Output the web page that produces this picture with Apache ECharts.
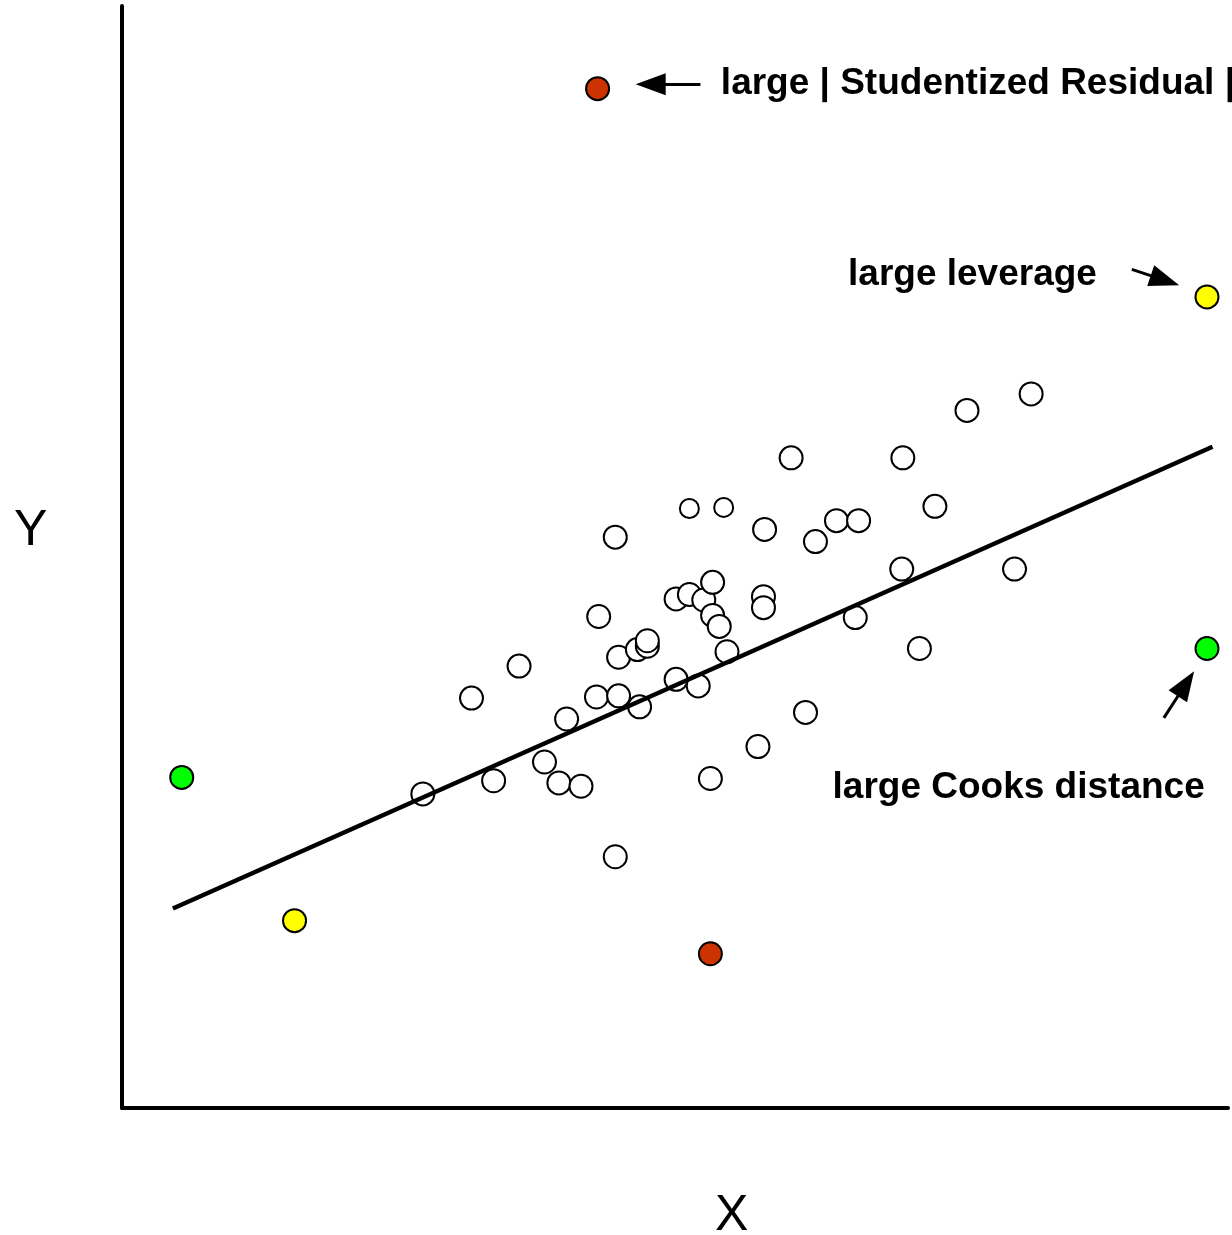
<!DOCTYPE html>
<html>
<head>
<meta charset="utf-8">
<title>Outliers, leverage and influence</title>
<script src="https://cdn.jsdelivr.net/npm/echarts@6/dist/echarts.min.js"></script>
<style>
  html, body { margin: 0; padding: 0; background: #fff; }
  #chart { width: 1232px; height: 1235px; }
</style>
</head>
<body>
<div id="chart"></div>
<script>
// values, axes run 0..100 on both sides
const typicalPts = [
  [27.2, 28.5], [33.6, 29.7], [38.2, 31.4], [39.5, 29.5], [41.5, 29.2],
  [31.6, 37.2], [35.9, 40.1], [40.2, 35.3], [42.9, 37.3], [44.9, 37.4],
  [46.8, 36.4], [43.1, 44.6], [44.9, 40.9], [46.6, 41.6], [47.5, 41.9],
  [47.5, 42.4], [50.1, 46.2], [51.3, 46.6], [52.6, 46.1], [53.4, 47.7],
  [53.4, 44.7], [54.0, 43.7], [54.7, 41.4], [50.1, 38.9], [52.1, 38.3],
  [58.0, 46.4], [58.0, 45.4], [57.5, 32.8], [53.2, 29.9], [44.6, 22.8],
  [61.8, 35.9], [44.6, 51.8], [58.1, 52.5], [62.7, 51.4], [64.6, 53.3],
  [66.6, 53.3], [66.3, 44.5], [70.5, 48.9], [60.5, 59.0], [70.6, 59.0],
  [76.4, 63.3], [82.2, 64.8], [73.5, 54.6], [80.7, 48.9], [72.1, 41.7]
];
const smallPts = [[51.3, 54.4], [54.4, 54.5]];
const residualPts = [[43.0, 92.5], [53.2, 14.0]];
const leveragePts = [[98.1, 73.6], [15.6, 17.0]];
const cooksPts = [[98.1, 41.7], [5.4, 30.0]];
const fitLine = [[4.6, 18.1], [98.6, 60.0]];

const noteLabels = [
  [54.1, 92.9, 'large | Studentized Residual |'],
  [65.6, 75.6, 'large leverage'],
  [64.2, 29.1, 'large Cooks distance']
];
const noteArrows = [
  [[52.3, 92.9], [47.8, 92.9]],
  [[91.3, 76.1], [94.3, 75.1]],
  [[94.2, 35.4], [96.2, 38.5]]
];

const chart = echarts.init(document.getElementById('chart'));

function dots(data, fill, size) {
  return {
    type: 'scatter',
    data: data,
    symbol: 'circle',
    symbolSize: size,
    silent: true,
    itemStyle: { color: fill, borderColor: '#000', borderWidth: 2, opacity: 1 },
    z: 3
  };
}

const option = {
  animation: false,
  backgroundColor: '#fff',
  grid: { left: 122, top: 6, width: 1106, height: 1102 },
  xAxis: {
    type: 'value', min: 0, max: 100,
    axisLine: { show: true, onZero: false, lineStyle: { color: '#000', width: 4 } },
    axisTick: { show: false },
    axisLabel: { show: false },
    splitLine: { show: false }
  },
  yAxis: {
    type: 'value', min: 0, max: 100,
    axisLine: { show: true, onZero: false, lineStyle: { color: '#000', width: 4 } },
    axisTick: { show: false },
    axisLabel: { show: false },
    splitLine: { show: false }
  },
  graphic: [
    {
      type: 'text', left: 14, top: 506,
      style: { text: 'Y', fontFamily: 'Liberation Sans', fontSize: 50, fill: '#000' }
    },
    {
      type: 'text', left: 715, top: 1191,
      style: { text: 'X', fontFamily: 'Liberation Sans', fontSize: 50, fill: '#000' }
    }
  ],
  series: [
    dots(typicalPts, '#fff', 23),
    dots(smallPts, '#fff', 19),
    dots(residualPts, '#cc3300', 23),
    dots(leveragePts, '#ffff00', 23),
    dots(cooksPts, '#00ff00', 23),
    {
      type: 'line',
      data: fitLine,
      showSymbol: false,
      silent: true,
      lineStyle: { color: '#000', width: 4.5 },
      z: 4
    },
    {
      type: 'scatter',
      data: noteLabels,
      symbolSize: 1,
      silent: true,
      itemStyle: { color: 'transparent' },
      label: {
        show: true,
        position: 'right',
        distance: 0,
        formatter: p => p.value[2],
        fontFamily: 'Liberation Sans',
        fontWeight: 'bold',
        fontSize: 37,
        color: '#000',
        opacity: 1,
        textBorderWidth: 0
      },
      markLine: {
        silent: true,
        symbol: ['none', 'triangle'],
        symbolSize: [22, 30],
        label: { show: false },
        lineStyle: { color: '#000', width: 3, type: 'solid', opacity: 1 },
        itemStyle: { color: '#000' },
        data: noteArrows.map(a => [{ coord: a[0] }, { coord: a[1] }])
      },
      z: 5
    }
  ]
};

chart.setOption(option);
</script>
</body>
</html>
